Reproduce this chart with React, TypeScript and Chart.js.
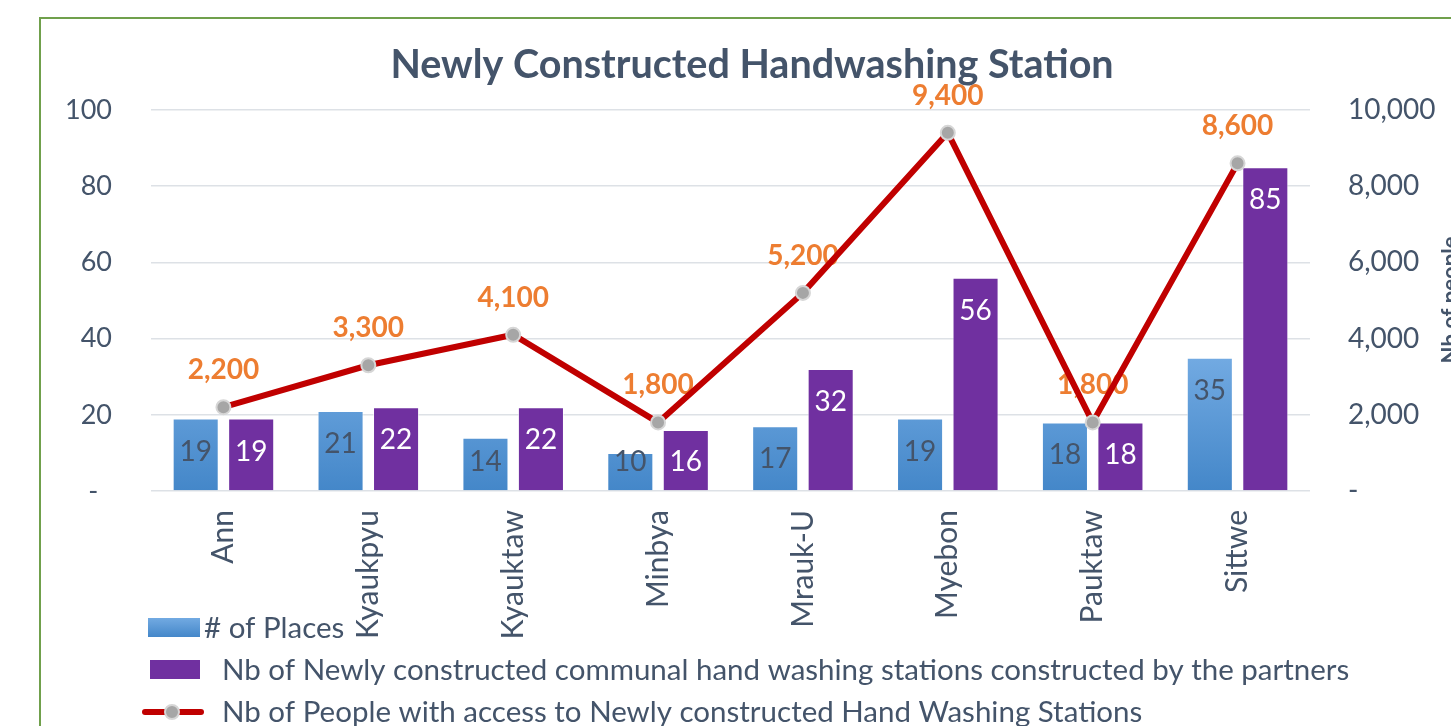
import React, { useEffect, useRef } from "react";
import { Chart, registerables } from "chart.js";

Chart.register(...registerables);

const categories = ["Ann", "Kyaukpyu", "Kyauktaw", "Minbya", "Mrauk-U", "Myebon", "Pauktaw", "Sittwe"];
const places = [19, 21, 14, 10, 17, 19, 18, 35];
const stations = [19, 22, 22, 16, 32, 56, 18, 85];
const people = [2200, 3300, 4100, 1800, 5200, 9400, 1800, 8600];

const titleText = "Newly Constructed Handwashing Station";
const rightAxisTitle = "Nb of people";
const legendLabels = [
  "# of Places",
  "Nb of Newly constructed communal hand washing stations constructed by the partners",
  "Nb of People with access to Newly constructed Hand Washing Stations",
];

const FONT = "Lato, 'Open Sans', sans-serif";
const TEXT = "#44546a";
const BLUE_TOP = "#72aae2";
const BLUE_BOT = "#4487c9";
const PURPLE = "#7030a0";
const RED = "#c00000";
const ORANGE = "#ed7d31";

const fmt = (v: number) => v.toLocaleString("en-US");

const decorPlugin = {
  id: "decor",
  beforeDatasetsDraw(chart: any) {
    const ctx = chart.ctx;
    const meta = chart.getDatasetMeta(0);
    meta.data.forEach((el: any) => {
      const g = ctx.createLinearGradient(0, el.y, 0, el.base);
      g.addColorStop(0, BLUE_TOP);
      g.addColorStop(1, BLUE_BOT);
      el.options.backgroundColor = g;
    });
  },
  beforeDatasetDraw(chart: any, args: any) {
    if (args.index !== 2) return;
    const ctx = chart.ctx;
    const meta = chart.getDatasetMeta(2);
    ctx.save();
    ctx.font = `bold 28px ${FONT}`;
    ctx.fillStyle = ORANGE;
    ctx.textAlign = "center";
    ctx.textBaseline = "middle";
    meta.data.forEach((pt: any, i: number) => {
      ctx.fillText(fmt(people[i]), pt.x, pt.y - 37);
    });
    ctx.restore();
  },
  afterDatasetsDraw(chart: any) {
    const ctx = chart.ctx;
    ctx.save();
    ctx.font = `28px ${FONT}`;
    ctx.textAlign = "center";
    ctx.textBaseline = "middle";
    [0, 1].forEach((di) => {
      const meta = chart.getDatasetMeta(di);
      const vals = di === 0 ? places : stations;
      ctx.fillStyle = di === 0 ? TEXT : "#ffffff";
      meta.data.forEach((el: any, i: number) => {
        const y = Math.min(el.y + 33, el.base - 28);
        ctx.fillText(String(vals[i]), el.x, y);
      });
    });
    ctx.restore();
  },
  afterDraw(chart: any) {
    const ctx = chart.ctx;
    ctx.save();
    // frame
    ctx.strokeStyle = "#70a04c";
    ctx.lineWidth = 2;
    ctx.strokeRect(40, 18, 1500, 800);
    // title
    ctx.font = `bold 39.5px ${FONT}`;
    ctx.fillStyle = TEXT;
    ctx.textAlign = "center";
    ctx.textBaseline = "middle";
    ctx.fillText(titleText, 752, 65);
    // right axis title
    ctx.save();
    ctx.translate(1451, 300);
    ctx.rotate(-Math.PI / 2);
    ctx.font = `bold 22px ${FONT}`;
    ctx.fillText(rightAxisTitle, 0, 0);
    ctx.restore();
    // legend
    ctx.font = `29.5px ${FONT}`;
    ctx.textAlign = "left";
    const g = ctx.createLinearGradient(0, 618, 0, 637);
    g.addColorStop(0, BLUE_TOP);
    g.addColorStop(1, BLUE_BOT);
    ctx.fillStyle = g;
    ctx.fillRect(148, 618, 52, 19);
    ctx.fillStyle = TEXT;
    ctx.fillText(legendLabels[0], 204, 628);
    ctx.fillStyle = PURPLE;
    ctx.fillRect(150, 660, 50, 19);
    ctx.fillStyle = TEXT;
    ctx.fillText(legendLabels[1], 222, 670);
    ctx.strokeStyle = RED;
    ctx.lineWidth = 6;
    ctx.lineCap = "round";
    ctx.beginPath();
    ctx.moveTo(145, 712);
    ctx.lineTo(201, 712);
    ctx.stroke();
    ctx.beginPath();
    ctx.arc(172, 712, 7, 0, Math.PI * 2);
    ctx.fillStyle = "#a6a6a6";
    ctx.fill();
    ctx.lineWidth = 2;
    ctx.strokeStyle = "#d6d6d6";
    ctx.stroke();
    ctx.fillStyle = TEXT;
    ctx.fillText(legendLabels[2], 222, 712);
    ctx.restore();
  },
};

export default function App() {
  const ref = useRef<HTMLCanvasElement | null>(null);
  useEffect(() => {
    document.body.style.margin = "0";
    document.body.style.overflow = "hidden";
    const canvas = ref.current!;
    const chart = new Chart(canvas, {
      type: "bar",
      data: {
        labels: categories,
        datasets: [
          {
            type: "bar",
            label: legendLabels[0],
            data: places,
            backgroundColor: BLUE_TOP,
            borderColor: "rgba(255,255,255,0.6)",
            borderWidth: 1,
            yAxisID: "y",
            order: 1,
            categoryPercentage: 0.766,
            barPercentage: 0.83,
          },
          {
            type: "bar",
            label: legendLabels[1],
            data: stations,
            backgroundColor: PURPLE,
            borderColor: "rgba(255,255,255,0.6)",
            borderWidth: 1,
            yAxisID: "y",
            order: 1,
            categoryPercentage: 0.766,
            barPercentage: 0.83,
          },
          {
            type: "line",
            label: legendLabels[2],
            data: people,
            borderColor: RED,
            borderWidth: 6,
            pointRadius: 7,
            pointBackgroundColor: "#a6a6a6",
            pointBorderColor: "#d6d6d6",
            pointBorderWidth: 2,
            yAxisID: "y1",
            order: 0,
            tension: 0,
          } as any,
        ],
      },
      options: {
        responsive: false,
        animation: false,
        layout: { padding: { top: 110, bottom: 0, left: 0, right: 0 } },
        plugins: {
          legend: { display: false },
          title: { display: false },
          tooltip: { enabled: false },
        },
        scales: {
          x: {
            grid: { display: false, drawTicks: false },
            border: { display: false },
            ticks: {
              maxRotation: 90,
              minRotation: 90,
              padding: 19,
              color: TEXT,
              font: { family: FONT, size: 30 },
            },
            afterFit: (s: any) => {
              s.height = 235;
            },
          },
          y: {
            position: "left",
            min: 0,
            max: 100,
            grid: { color: "#dde1e6", lineWidth: 1.5, drawTicks: false },
            border: { display: false },
            ticks: {
              stepSize: 20,
              padding: 39,
              color: TEXT,
              font: { family: FONT, size: 27 },
              callback: (v: any) => (v === 0 ? "-  " : String(v)),
            },
            afterFit: (s: any) => {
              s.width = 151;
            },
          },
          y1: {
            position: "right",
            min: 0,
            max: 10000,
            grid: { display: false, drawTicks: false },
            border: { display: false },
            ticks: {
              stepSize: 2000,
              padding: 38,
              color: TEXT,
              font: { family: FONT, size: 28 },
              callback: (v: any) => (v === 0 ? "-" : fmt(Number(v))),
            },
            afterFit: (s: any) => {
              s.width = 141;
            },
          },
        },
      },
      plugins: [decorPlugin],
    });
    return () => chart.destroy();
  }, []);
  return (
    <div style={{ width: 1451, height: 726, position: "relative" }}>
      <canvas ref={ref} width={1451} height={726} style={{ display: "block" }} />
    </div>
  );
}
